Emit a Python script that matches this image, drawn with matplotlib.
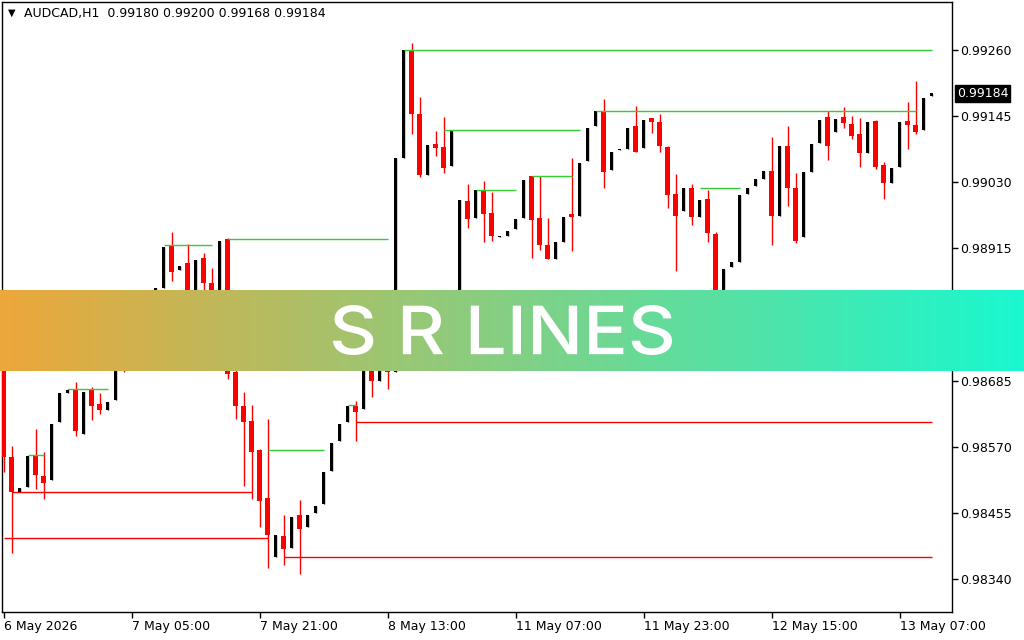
import numpy as np
import matplotlib.pyplot as plt
from matplotlib.colors import LinearSegmentedColormap
from matplotlib.font_manager import FontProperties
from matplotlib.patches import PathPatch
from matplotlib.textpath import TextPath
from matplotlib.transforms import Affine2D, IdentityTransform

# AUDCAD H1 candles (prices)
opens = [0.98738, 0.98552, 0.98491, 0.98500, 0.98554, 0.98519, 0.98512, 0.98613, 0.98663, 0.98669,
         0.98592, 0.98669, 0.98644, 0.98634, 0.98651, 0.98721, 0.98710, 0.98764, 0.98794, 0.98781,
         0.98846, 0.98919, 0.98877, 0.98889, 0.98839, 0.98898, 0.98854, 0.98825, 0.98931, 0.98700,
         0.98641, 0.98615, 0.98564, 0.98481, 0.98378, 0.98415, 0.98394, 0.98451, 0.98431, 0.98455,
         0.98471, 0.98528, 0.98580, 0.98613, 0.98641, 0.98636, 0.98721, 0.98684, 0.98717, 0.98700,
         0.99072, 0.99259, 0.99148, 0.99042, 0.99096, 0.99091, 0.99058, 0.98825, 0.98997, 0.98967,
         0.99016, 0.98976, 0.98934, 0.98936, 0.98948, 0.98967, 0.99040, 0.98967, 0.98920, 0.98896,
         0.98926, 0.98974, 0.98971, 0.99066, 0.99127, 0.99153, 0.99051, 0.99085, 0.99087, 0.99127,
         0.99089, 0.99141, 0.99134, 0.99091, 0.99009, 0.98979, 0.99019, 0.98969, 0.99000, 0.98939,
         0.98825, 0.98882, 0.98891, 0.99009, 0.99023, 0.99035, 0.99049, 0.98971, 0.99092, 0.99019,
         0.98934, 0.99047, 0.99098, 0.99143, 0.99117, 0.99143, 0.99131, 0.99113, 0.99080, 0.99136,
         0.99059, 0.99028, 0.99056, 0.99136, 0.99129, 0.99120, 0.99180]
highs = [0.98747, 0.98571, 0.98498, 0.98554, 0.98601, 0.98561, 0.98610, 0.98663, 0.98670, 0.98683,
         0.98665, 0.98674, 0.98663, 0.98648, 0.98721, 0.98735, 0.98764, 0.98794, 0.98808, 0.98846,
         0.98917, 0.98943, 0.98884, 0.98922, 0.98894, 0.98907, 0.98881, 0.98927, 0.98933, 0.98703,
         0.98665, 0.98643, 0.98566, 0.98618, 0.98417, 0.98451, 0.98448, 0.98477, 0.98451, 0.98467,
         0.98526, 0.98577, 0.98610, 0.98641, 0.98649, 0.98721, 0.98735, 0.98717, 0.98724, 0.99072,
         0.99259, 0.99271, 0.99178, 0.99094, 0.99118, 0.99143, 0.99118, 0.98999, 0.99026, 0.99016,
         0.99032, 0.99012, 0.98936, 0.98945, 0.98966, 0.99033, 0.99040, 0.99040, 0.98967, 0.98926,
         0.98969, 0.99072, 0.99063, 0.99124, 0.99153, 0.99174, 0.99082, 0.99087, 0.99124, 0.99162,
         0.99138, 0.99141, 0.99148, 0.99092, 0.99044, 0.99019, 0.99026, 0.98999, 0.99016, 0.98943,
         0.98879, 0.98891, 0.99007, 0.99019, 0.99035, 0.99049, 0.99108, 0.99092, 0.99127, 0.99045,
         0.99047, 0.99096, 0.99138, 0.99153, 0.99139, 0.99160, 0.99145, 0.99141, 0.99134, 0.99138,
         0.99065, 0.99054, 0.99134, 0.99169, 0.99205, 0.99176, 0.99184]
lows = [0.98526, 0.98385, 0.98491, 0.98500, 0.98497, 0.98479, 0.98512, 0.98613, 0.98663, 0.98589,
        0.98592, 0.98616, 0.98627, 0.98634, 0.98651, 0.98700, 0.98710, 0.98764, 0.98766, 0.98781,
        0.98846, 0.98858, 0.98877, 0.98828, 0.98839, 0.98834, 0.98816, 0.98825, 0.98688, 0.98618,
        0.98502, 0.98479, 0.98431, 0.98359, 0.98378, 0.98365, 0.98394, 0.98349, 0.98431, 0.98455,
        0.98471, 0.98528, 0.98580, 0.98613, 0.98580, 0.98636, 0.98656, 0.98684, 0.98670, 0.98700,
        0.99072, 0.99113, 0.99039, 0.99042, 0.99075, 0.99045, 0.99058, 0.98825, 0.98950, 0.98967,
        0.98926, 0.98927, 0.98934, 0.98936, 0.98948, 0.98967, 0.98898, 0.98912, 0.98896, 0.98896,
        0.98926, 0.98910, 0.98971, 0.99066, 0.99127, 0.99019, 0.99051, 0.99085, 0.99087, 0.99082,
        0.99089, 0.99115, 0.99082, 0.98985, 0.98875, 0.98979, 0.98955, 0.98969, 0.98926, 0.98816,
        0.98825, 0.98882, 0.98891, 0.99009, 0.99023, 0.99035, 0.98920, 0.98971, 0.98988, 0.98924,
        0.98934, 0.99047, 0.99098, 0.99068, 0.99117, 0.99124, 0.99105, 0.99056, 0.99080, 0.99052,
        0.99000, 0.99028, 0.99056, 0.99087, 0.99113, 0.99120, 0.99180]
closes = [0.98552, 0.98491, 0.98498, 0.98554, 0.98521, 0.98507, 0.98610, 0.98663, 0.98669, 0.98597,
          0.98665, 0.98641, 0.98634, 0.98648, 0.98721, 0.98710, 0.98764, 0.98794, 0.98781, 0.98846,
          0.98917, 0.98874, 0.98884, 0.98839, 0.98894, 0.98854, 0.98825, 0.98927, 0.98696, 0.98641,
          0.98613, 0.98561, 0.98476, 0.98417, 0.98417, 0.98392, 0.98448, 0.98427, 0.98451, 0.98467,
          0.98526, 0.98577, 0.98610, 0.98641, 0.98630, 0.98721, 0.98684, 0.98717, 0.98700, 0.99072,
          0.99259, 0.99148, 0.99042, 0.99094, 0.99089, 0.99054, 0.99118, 0.98999, 0.98966, 0.99016,
          0.98974, 0.98936, 0.98936, 0.98945, 0.98966, 0.99033, 0.98964, 0.98920, 0.98896, 0.98926,
          0.98969, 0.98969, 0.99063, 0.99124, 0.99153, 0.99047, 0.99082, 0.99087, 0.99124, 0.99082,
          0.99138, 0.99134, 0.99092, 0.99007, 0.98972, 0.99019, 0.98969, 0.98999, 0.98941, 0.98825,
          0.98879, 0.98891, 0.99007, 0.99019, 0.99035, 0.99049, 0.98971, 0.99092, 0.99019, 0.98927,
          0.99047, 0.99096, 0.99138, 0.99092, 0.99139, 0.99132, 0.99110, 0.99080, 0.99134, 0.99056,
          0.99028, 0.99054, 0.99134, 0.99129, 0.99117, 0.99176, 0.99184]

# support / resistance lines: level, first bar, last bar
res_levels = [0.99260, 0.99154, 0.99120, 0.99040, 0.99017, 0.99019, 0.98931, 0.98920,
              0.98670, 0.98556, 0.98564, 0.98643]
res_start = [50, 74, 55, 66, 59, 87, 28, 20, 8, 3, 33, 43]
res_end = [116, 114, 72, 71, 64, 92, 48, 26, 13, 5, 40, 44]
sup_levels = [0.98491, 0.98411, 0.98378, 0.98613]
sup_start = [1, 0, 35, 44]
sup_end = [31, 33, 116, 116]

ytick_values = [0.99260, 0.99145, 0.99030, 0.98915, 0.98800, 0.98685, 0.98570, 0.98455, 0.98340]
xtick_bars = [0, 16, 32, 48, 64, 80, 96, 112]
xtick_labels = ["6 May 2026", "7 May 05:00", "7 May 21:00", "8 May 13:00",
                "11 May 07:00", "11 May 23:00", "12 May 15:00", "13 May 07:00"]

last_price = 0.99184
header = "AUDCAD,H1  0.99180 0.99200 0.99168 0.99184"
banner_text = "S R LINES"

W, H = 1024, 640
fig = plt.figure(figsize=(W / 100, H / 100), dpi=100)
fig.patch.set_facecolor("white")

ax = fig.add_axes([2 / W, 1 - 612 / H, 950 / W, 610 / H])

o = np.array(opens)
h = np.array(highs)
l = np.array(lows)
c = np.array(closes)
x = np.arange(len(o))
up = c >= o
colors = np.where(up, "black", "#ff0000")
widths = np.where(up, 0.375, 0.625)
px = 1.737e-5
body_h = np.maximum(np.abs(c - o), px)

ax.vlines(x, l, h, colors=colors, linewidth=1, zorder=2)
ax.bar(x, body_h, bottom=np.minimum(o, c), width=widths, color=colors,
       linewidth=0, zorder=3)

ax.hlines(res_levels, res_start, res_end, colors="#32cd32", linewidth=1, zorder=4)
ax.hlines(sup_levels, sup_start, sup_end, colors="#ff0000", linewidth=1, zorder=4)

ax.set_xlim(-0.1875, 118.56)
ax.set_ylim(0.98283, 0.99343)

ax.yaxis.tick_right()
ax.set_yticks(ytick_values)
ax.set_yticklabels([f"{v:.5f}" for v in ytick_values])
ax.set_xticks(xtick_bars)
ax.set_xticklabels(xtick_labels, ha="left")
ax.tick_params(axis="both", direction="out", length=4, width=1,
               labelsize=9, colors="black")
ax.tick_params(axis="y", pad=1.5)
ax.tick_params(axis="x", pad=2)
for s in ax.spines.values():
    s.set_linewidth(1)
    s.set_color("black")

# current price tag
ax.annotate(f"{last_price:.5f}", xy=(1.0, last_price),
            xycoords=("axes fraction", "data"),
            xytext=(3.5, 0), textcoords="offset points",
            ha="left", va="center", fontsize=9, color="white",
            bbox=dict(boxstyle="square,pad=0.15", fc="black", ec="black"))

fig.text(8 / W, 1 - 13 / H, "\u25bc", fontsize=7, va="center", ha="left")
fig.text(24 / W, 1 - 13 / H, header, fontsize=9, va="center", ha="left")

# gradient banner
bax = fig.add_axes([0, 1 - 371 / H, 1, 81 / H])
cmap = LinearSegmentedColormap.from_list("banner", ["#eca73a", "#1af8cf"])
bax.imshow(np.linspace(0, 1, 512).reshape(1, -1), cmap=cmap, aspect="auto",
           extent=[0, 1, 0, 1])
bax.set_xlim(0, 1)
bax.set_ylim(0, 1)
bax.axis("off")

# banner title, stretched to the wide letterforms of the original
tp = TextPath((0, 0), banner_text, size=100,
              prop=FontProperties(family="Inter", weight="medium"))
ext = tp.get_extents()
sx = 339 / ext.width
sy = 50 / ext.height
tr = (Affine2D().translate(-ext.x0, -ext.y0).scale(sx, sy)
      .translate(333, H - 355))
title = PathPatch(tr.transform_path(tp), fc="white", ec="none",
                  transform=IdentityTransform(), zorder=10)
fig.add_artist(title)

fig.savefig("out.png", dpi=100)
